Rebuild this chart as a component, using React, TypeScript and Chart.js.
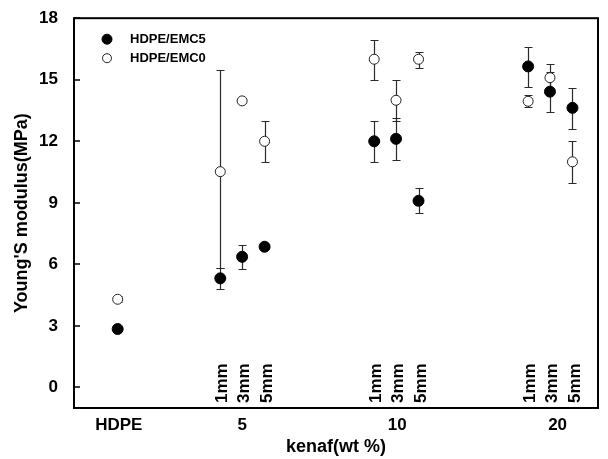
import React, { useEffect, useRef } from "react";
import { Chart, registerables } from "chart.js";

Chart.register(...registerables);

const FONT = "'Liberation Sans', Arial, sans-serif";

const categories = ["HDPE", "5", "10", "20"];
const fiberLengths = ["1mm", "3mm", "5mm"];
const categoryX = [2, 7.7, 14.75, 21.8];
const categoryTickX = [2.05, 7.7, 14.8, 22.15];
const lengthOffset = [-1, 0, 1.03];
const yTicks = [0, 3, 6, 9, 12, 15, 18];

// point order: HDPE, 5wt% (1,3,5mm), 10wt% (1,3,5mm), 20wt% (1,3,5mm)
const pointCategory = [0, 1, 1, 1, 2, 2, 2, 3, 3, 3];
const pointLength = [-1, 0, 1, 2, 0, 1, 2, 0, 1, 2];

const emc5Values = [2.85, 5.32, 6.37, 6.86, 12.0, 12.12, 9.1, 15.65, 14.42, 13.63];
const emc5ErrUp = [0.1, 0.5, 0.58, 0.12, 0.98, 1.0, 0.6, 0.96, 0.98, 0.97];
const emc5ErrDown = [0.1, 0.51, 0.6, 0.12, 1.03, 1.01, 0.6, 0.99, 0.98, 1.03];

const emc0Values = [4.3, 10.52, 13.97, 12.0, 16.0, 14.0, 16.0, 13.95, 15.1, 11.0];
const emc0ErrUp = [0.15, 4.95, 0.1, 0.97, 0.95, 1.0, 0.37, 0.3, 0.65, 1.0];
const emc0ErrDown = [0.15, 4.7, 0.1, 1.0, 1.0, 1.0, 0.43, 0.28, 0.65, 1.03];

const pointX = (i: number) =>
  categoryX[pointCategory[i]] + (pointLength[i] >= 0 ? lengthOffset[pointLength[i]] : 0);

const buildData = (vals: number[], up: number[], down: number[]) =>
  vals.map((v, i) => ({ x: pointX(i), y: v, up: up[i], down: down[i] }));

const errorBarPlugin = {
  id: "errorBars",
  beforeDatasetsDraw(chart: any) {
    const { ctx } = chart;
    const xs = chart.scales.x;
    const ys = chart.scales.y;
    ctx.save();
    ctx.strokeStyle = "#2a2a2a";
    ctx.lineWidth = 1.2;
    chart.data.datasets.forEach((ds: any) => {
      ds.data.forEach((p: any) => {
        const px = Math.round(xs.getPixelForValue(p.x)) + 0.5;
        const top = Math.round(ys.getPixelForValue(p.y + p.up)) + 0.5;
        const bot = Math.round(ys.getPixelForValue(p.y - p.down)) + 0.5;
        ctx.beginPath();
        ctx.moveTo(px, top);
        ctx.lineTo(px, bot);
        ctx.moveTo(px - 4, top);
        ctx.lineTo(px + 4, top);
        ctx.moveTo(px - 4, bot);
        ctx.lineTo(px + 4, bot);
        ctx.stroke();
      });
    });
    ctx.restore();
  },
};

const framePlugin = {
  id: "frame",
  afterDraw(chart: any) {
    const { ctx, chartArea } = chart;
    const { left, top, right, bottom } = chartArea;
    const ys = chart.scales.y;
    const xs = chart.scales.x;
    ctx.save();
    ctx.strokeStyle = "#000";
    ctx.lineWidth = 2;
    ctx.strokeRect(left, top, right - left, bottom - top);
    ctx.lineWidth = 1.5;
    yTicks.forEach((v) => {
      const py = Math.round(ys.getPixelForValue(v));
      ctx.beginPath();
      ctx.moveTo(left, py);
      ctx.lineTo(left + 6, py);
      ctx.stroke();
    });
    // fiber length labels (rotated)
    ctx.fillStyle = "#000";
    ctx.font = `bold 17px ${FONT}`;
    ctx.textAlign = "left";
    ctx.textBaseline = "middle";
    for (let c = 1; c < categories.length; c++) {
      fiberLengths.forEach((lbl, l) => {
        const px = xs.getPixelForValue(categoryX[c] + lengthOffset[l]) + 2.5;
        ctx.save();
        ctx.translate(px, bottom - 5);
        ctx.rotate(-Math.PI / 2);
        ctx.fillText(lbl, 0, 0);
        ctx.restore();
      });
    }
    // legend
    const lx = left + 33;
    const rows = [top + 21, top + 40];
    chart.data.datasets.forEach((ds: any, i: number) => {
      const ly = rows[i];
      ctx.beginPath();
      ctx.arc(lx, ly, i === 0 ? 5 : 4.5, 0, Math.PI * 2);
      ctx.fillStyle = ds.backgroundColor;
      ctx.fill();
      ctx.lineWidth = 1;
      ctx.strokeStyle = ds.borderColor;
      ctx.stroke();
      ctx.fillStyle = "#000";
      ctx.font = `bold 13px ${FONT}`;
      ctx.textAlign = "left";
      ctx.textBaseline = "middle";
      ctx.fillText(ds.label, lx + 23, ly);
    });
    ctx.restore();
  },
};

export default function App() {
  const ref = useRef<HTMLCanvasElement | null>(null);
  useEffect(() => {
    if (!ref.current) return;
    Chart.defaults.font.family = FONT;
    const chart = new Chart(ref.current, {
      type: "scatter",
      data: {
        datasets: [
          {
            label: "HDPE/EMC5",
            data: buildData(emc5Values, emc5ErrUp, emc5ErrDown) as any,
            backgroundColor: "#000",
            borderColor: "#000",
            borderWidth: 1,
            pointRadius: 5.5,
            pointHoverRadius: 5.5,
          },
          {
            label: "HDPE/EMC0",
            data: buildData(emc0Values, emc0ErrUp, emc0ErrDown) as any,
            backgroundColor: "#fff",
            borderColor: "#222",
            borderWidth: 1,
            pointRadius: 5,
            pointHoverRadius: 5,
          },
        ],
      },
      options: {
        animation: false,
        responsive: false,
        layout: { padding: { left: 0, right: 10, top: 15, bottom: 0 } },
        plugins: { legend: { display: false }, tooltip: { enabled: false } },
        scales: {
          x: {
            type: "linear",
            min: 0,
            max: 24,
            grid: { display: false },
            border: { display: false },
            afterBuildTicks: (s: any) => {
              s.ticks = categoryTickX.map((v) => ({ value: v }));
            },
            afterFit: (s: any) => {
              s.height = 51;
            },
            ticks: {
              color: "#000",
              font: { size: 17, weight: "bold" },
              padding: -1,
              maxRotation: 0,
              autoSkip: false,
              callback: (_v: any, i: number) => categories[i],
            },
            title: {
              display: true,
              text: "kenaf(wt %)",
              color: "#000",
              font: { size: 18, weight: "bold" },
              padding: { top: 0, bottom: 1 },
            },
          },
          y: {
            min: -1,
            max: 18,
            grid: { display: false },
            border: { display: false },
            afterBuildTicks: (s: any) => {
              s.ticks = yTicks.map((v) => ({ value: v }));
            },
            afterFit: (s: any) => {
              s.width = 74;
            },
            ticks: {
              color: "#000",
              font: { size: 17, weight: "bold" },
              padding: 8,
              autoSkip: false,
            },
            title: {
              display: true,
              text: "Young'S modulus(MPa)",
              color: "#000",
              font: { size: 18, weight: "bold" },
              padding: { top: 11, bottom: 0 },
            },
          },
        },
      },
      plugins: [errorBarPlugin, framePlugin],
    });
    return () => chart.destroy();
  }, []);
  return (
    <div style={{ position: "absolute", left: 0, top: 0, width: 608, height: 459, background: "#fff" }}>
      <canvas ref={ref} width={608} height={459} />
    </div>
  );
}
